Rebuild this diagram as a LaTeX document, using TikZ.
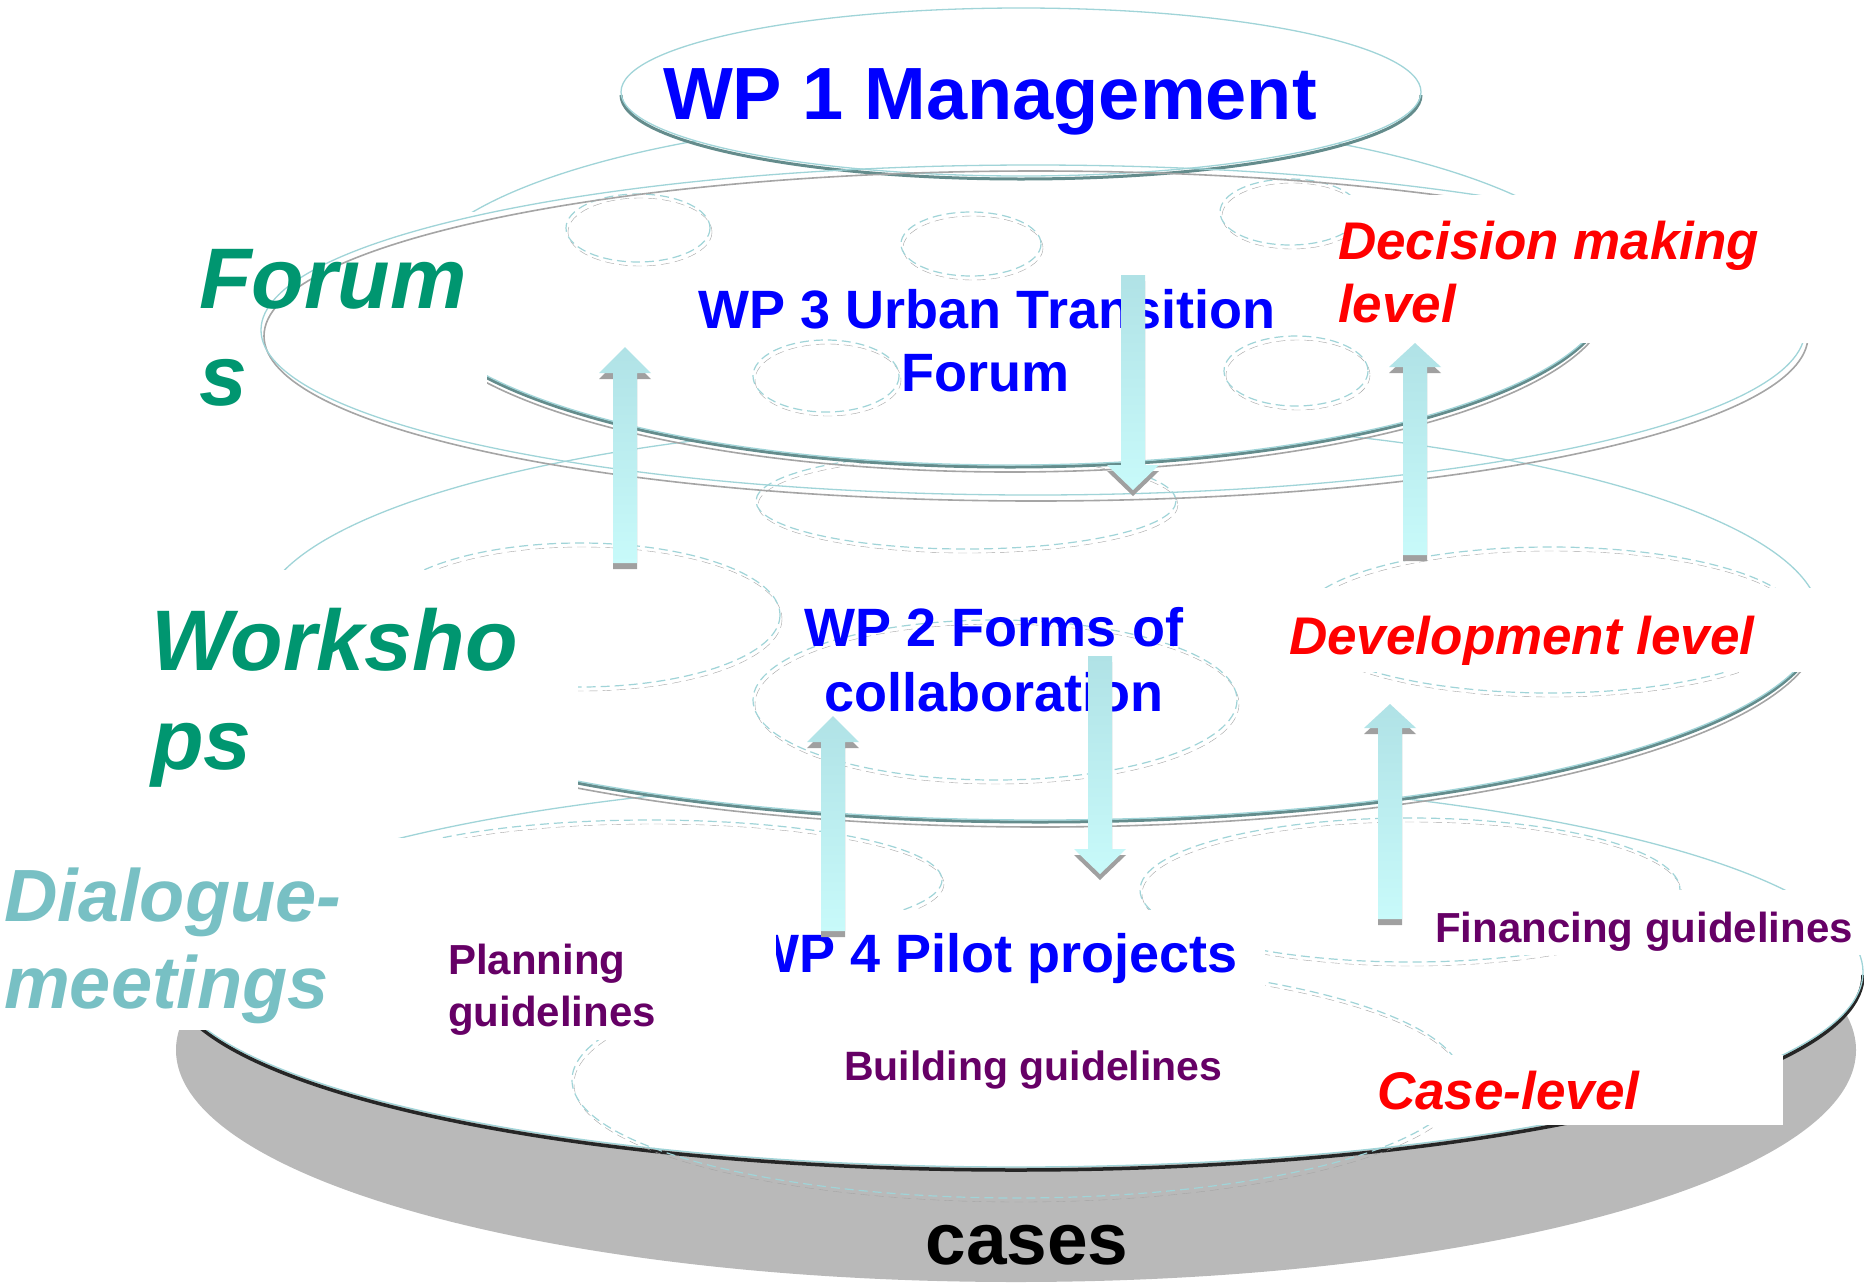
\documentclass[tikz,border=0pt]{standalone}
\usepackage{fontspec}
\setmainfont{Liberation Sans}
\definecolor{wpblue}{RGB}{0,0,255}
\definecolor{lvlred}{RGB}{255,0,0}
\definecolor{forumgreen}{RGB}{0,150,112}
\definecolor{dialteal}{RGB}{120,192,196}
\definecolor{guidepurple}{RGB}{102,0,102}
\definecolor{rimteal}{RGB}{160,212,216}
\definecolor{rimdark}{RGB}{100,140,140}
\definecolor{shadowgray}{RGB}{165,165,165}
\definecolor{basegray}{RGB}{185,185,185}
\definecolor{arrowtop}{RGB}{176,226,230}
\definecolor{arrowbot}{RGB}{200,250,250}
\definecolor{arrowgray}{RGB}{160,160,160}
\begin{document}
\begin{tikzpicture}[x=1pt,y=-1pt]
	\tikzstyle{rim}=[draw=rimteal, line width=1.3pt]
	\tikzstyle{rimshadow}=[draw=shadowgray, line width=1.6pt]
	\tikzstyle{bottomedge}=[draw=rimdark, line width=3pt]
	\tikzstyle{spot}=[draw=rimteal, line width=1.2pt, dash pattern=on 9pt off 5pt, preaction={draw=shadowgray, dash pattern=on 9pt off 5pt, transform canvas={shift={(2,4)}}}]
	\tikzstyle{mask}=[fill=white]
	\tikzstyle{blockarrow}=[top color=arrowtop, bottom color=arrowbot, preaction={fill=arrowgray, transform canvas={shift={(0,6)}}}]
	\tikzstyle{wp}=[inner sep=0pt, text=wpblue, font=\bfseries\fontsize{54}{60}\selectfont]
	\tikzstyle{layer}=[inner sep=0pt, anchor=base west, font=\bfseries\itshape\fontsize{86}{96}\selectfont]
	\tikzstyle{level}=[inner sep=0pt, anchor=base west, text=lvlred, font=\bfseries\itshape\fontsize{53}{60}\selectfont]
	\tikzstyle{guide}=[inner sep=0pt, anchor=base west, text=guidepurple, font=\bfseries\fontsize{42}{50}\selectfont]

	\useasboundingbox (0,0) rectangle (1864,1283);

	% dialogue-meetings disc
	\fill[basegray] (1016,1050) ellipse [x radius=840, y radius=232];
	\fill[white] (1016,972) ellipse [x radius=847, y radius=195];
	\draw[line width=3.5pt, black!85] (1016,975) ++(0:847 and 195) arc [start angle=0, end angle=180, x radius=847, y radius=195];
	\draw[rim] (1016,972) ellipse [x radius=847, y radius=195];
	\draw[spot] (650,880) ellipse [x radius=292, y radius=60];
	\draw[spot] (1410,890) ellipse [x radius=270, y radius=72];
	\draw[spot] (1017,1080) ellipse [x radius=445, y radius=118];

	% workshops disc
	\fill[white] (1040,620) ellipse [x radius=780, y radius=200];
	\draw[rimshadow] (1040,627) ++(0:780 and 200) arc [start angle=0, end angle=180, x radius=780, y radius=200];
	\draw[bottomedge] (1040,622) ++(0:780 and 200) arc [start angle=0, end angle=180, x radius=780, y radius=200];
	\draw[rim] (1040,620) ellipse [x radius=780, y radius=200];
	\draw[spot] (580,615) ellipse [x radius=200, y radius=72];
	\draw[spot] (995,700) ellipse [x radius=242, y radius=80];
	\draw[spot] (1550,620) ellipse [x radius=250, y radius=73];
	\draw[spot] (966,501) ellipse [x radius=210, y radius=48];

	% forum disc
	\fill[white] (1010,290) ellipse [x radius=600, y radius=175];
	\draw[rimshadow] (1010,297) ++(0:600 and 175) arc [start angle=0, end angle=180, x radius=600, y radius=175];
	\draw[bottomedge] (1010,292) ++(0:600 and 175) arc [start angle=0, end angle=180, x radius=600, y radius=175];
	\draw[rim] (1010,290) ellipse [x radius=600, y radius=175];
	\draw[spot] (638,228) ellipse [x radius=72, y radius=34];
	\draw[spot] (971,244) ellipse [x radius=70, y radius=32];
	\draw[spot] (1290,212) ellipse [x radius=70, y radius=33];
	\draw[spot] (826,376) ellipse [x radius=73, y radius=36];
	\draw[spot] (1296,371) ellipse [x radius=72, y radius=35];

	% management
	\fill[white] (1021,92) ellipse [x radius=400, y radius=84];
	\draw[bottomedge] (1021,95) ++(0:400 and 84) arc [start angle=0, end angle=180, x radius=400, y radius=84];
	\draw[rim] (1021,92) ellipse [x radius=400, y radius=84];

	\fill[mask] (190,212) rectangle (487,425);
	\draw[rimshadow] (1036,336) ellipse [x radius=772, y radius=165];
	\draw[rim] (1033,330) ellipse [x radius=772, y radius=165];

	\fill[mask] (1345,195) rectangle (1864,343);
	\fill[mask] (140,570) rectangle (578,790);
	\fill[mask] (1280,588) rectangle (1864,672);
	\fill[mask] (0,840) rectangle (352,1030);
	\fill[mask] (760,910) rectangle (1265,990);
	\fill[mask] (1430,890) rectangle (1864,955);
	\fill[mask] (1348,1055) rectangle (1783,1125);

	\node[inner sep=0pt, anchor=base, text=wpblue, font=\bfseries\fontsize{74}{80}\selectfont] (management) at (990,119) {WP 1 Management};
	\node[layer, text=forumgreen] (forumA) at (199,308) {Forum};
	\node[layer, text=forumgreen] (forumB) at (199,405) {s};
	\node[layer, text=forumgreen] (workA) at (151,670) {Worksho};
	\node[layer, text=forumgreen] (workB) at (151,769) {ps};
	\node[layer, text=dialteal, font=\bfseries\itshape\fontsize{74}{86}\selectfont] (dialA) at (4,921) {Dialogue-};
	\node[layer, text=dialteal, font=\bfseries\itshape\fontsize{74}{86}\selectfont] (dialB) at (4,1008) {meetings};
	\node[wp, anchor=base] (urbanA) at (987,328) {WP 3 Urban Transition};
	\node[wp, anchor=base] (urbanB) at (985,391) {Forum};
	\node[wp, anchor=base] (formsA) at (994,646) {WP 2 Forms of};
	\node[wp, anchor=base] (formsB) at (994,711) {collaboration};
	\node[wp, anchor=base west] (pilot) at (748,972) {WP 4 Pilot projects};
	\node[level] (decisionA) at (1338,259) {Decision making};
	\node[level] (decisionB) at (1338,322) {level};
	\node[level] (development) at (1289,654) {Development level};
	\node[level] (caselevel) at (1377,1109) {Case-level};
	\node[guide, font=\bfseries\fontsize{41}{50}\selectfont] (building) at (844,1080) {Building guidelines};
	\node[guide] (financing) at (1435,942) {Financing guidelines};
	\node[inner sep=0pt, anchor=base, font=\bfseries\fontsize{73}{80}\selectfont] (cases) at (1027,1264) {cases};

	\fill[mask] (352,838) rectangle (776,1040);
	\node[guide] (planningA) at (448,974) {Planning};
	\node[guide] (planningB) at (448,1026) {guidelines};

	\path[blockarrow] (613,563) -- (613,373) -- (599,373) -- (625,347) -- (651,373) -- (637,373) -- (637,563) -- cycle;
	\path[blockarrow] (1121,275) -- (1121,465) -- (1107,465) -- (1133,490) -- (1159,465) -- (1145,465) -- (1145,275) -- cycle;
	\path[blockarrow] (1403,555) -- (1403,367) -- (1389,367) -- (1415,343) -- (1441,367) -- (1427,367) -- (1427,555) -- cycle;
	\path[blockarrow] (821,931) -- (821,742) -- (807,742) -- (833,716) -- (859,742) -- (845,742) -- (845,931) -- cycle;
	\path[blockarrow] (1088,656) -- (1088,849) -- (1074,849) -- (1100,874) -- (1126,849) -- (1112,849) -- (1112,656) -- cycle;
	\path[blockarrow] (1378,919) -- (1378,728) -- (1364,728) -- (1390,704) -- (1416,728) -- (1402,728) -- (1402,919) -- cycle;
\end{tikzpicture}
\end{document}
